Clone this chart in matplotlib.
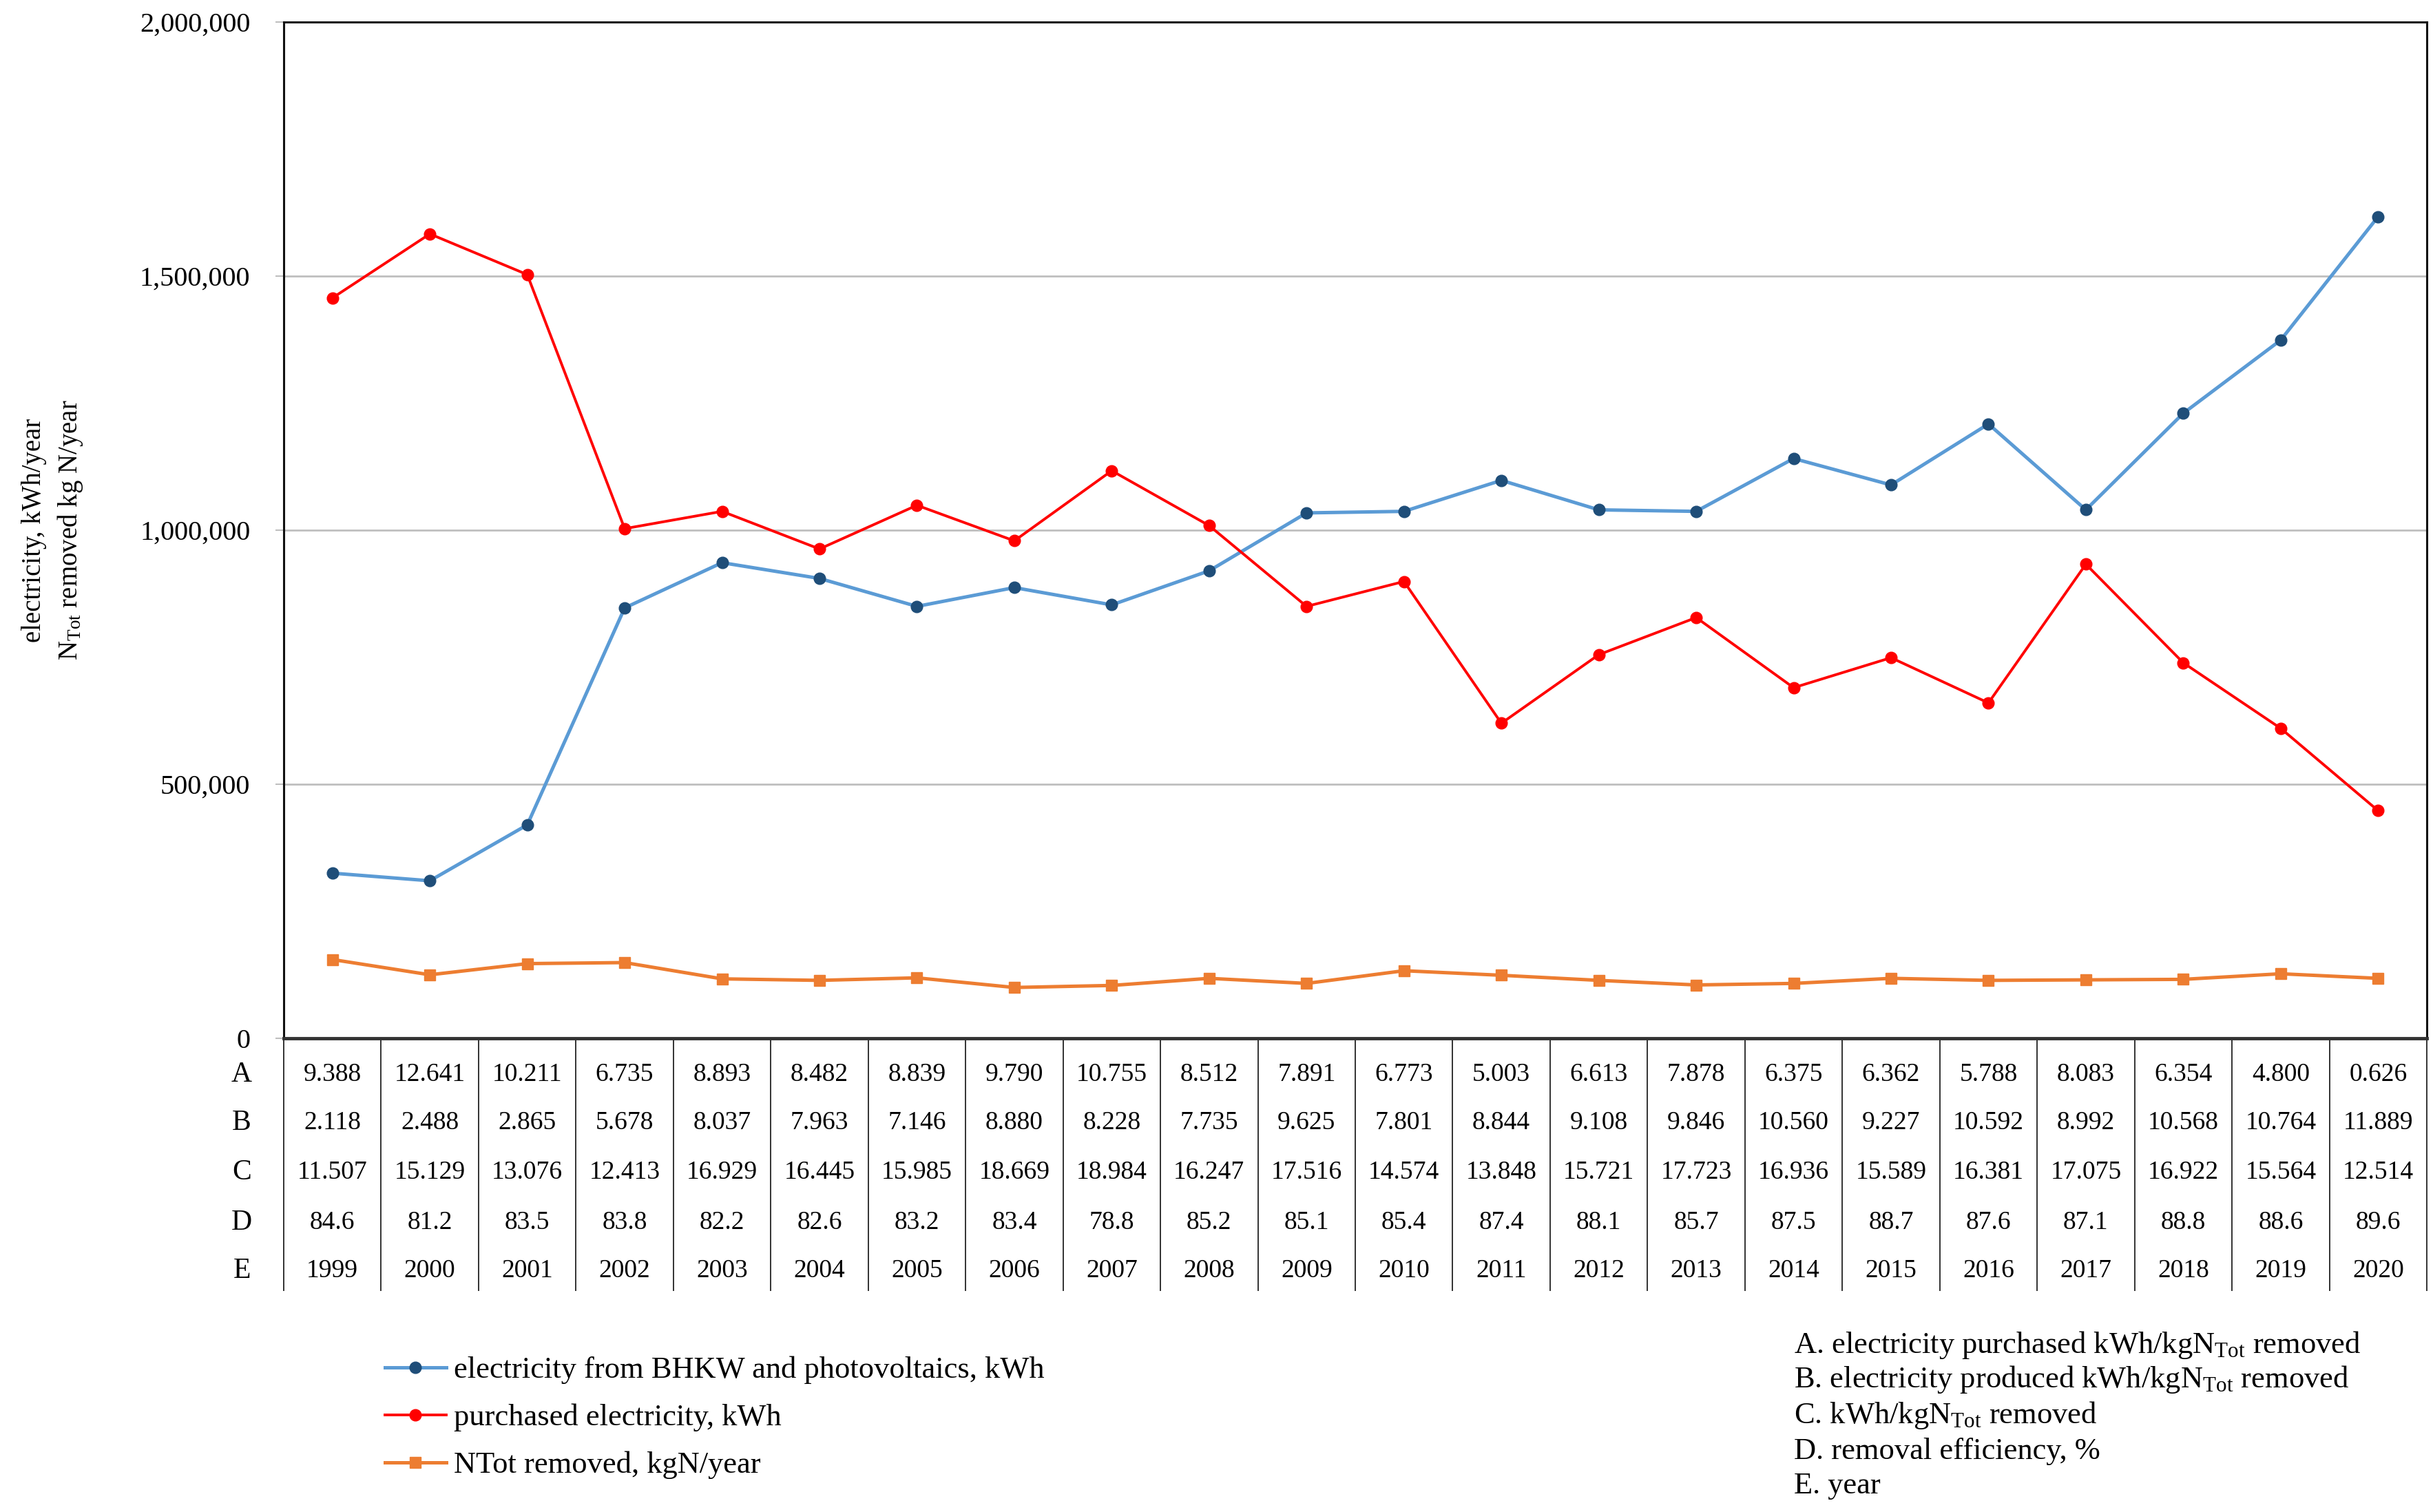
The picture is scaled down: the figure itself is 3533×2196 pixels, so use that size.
import matplotlib
matplotlib.use("Agg")
import matplotlib.pyplot as plt
import matplotlib.transforms as mtransforms
from matplotlib.ticker import FuncFormatter, MultipleLocator

plt.rcParams['font.family'] = ['Liberation Serif', 'DejaVu Serif']
plt.rcParams['mathtext.fontset'] = 'custom'
plt.rcParams['mathtext.rm'] = 'Liberation Serif'
plt.rcParams['mathtext.it'] = 'Liberation Serif:italic'

years = list(range(1999, 2021))

# electricity from BHKW and photovoltaics, kWh
produced = [325000, 310000, 420000, 847000, 936000, 905000, 850000, 887000, 853000, 920000, 1034000,
            1037000, 1098000, 1040000, 1037000, 1141000, 1089000, 1209000, 1040000, 1230000, 1374000, 1617000]
# purchased electricity, kWh
purchased = [1457000, 1583000, 1503000, 1003000, 1037000, 963000, 1049000, 979000, 1117000, 1009000, 850000,
             899000, 620000, 755000, 828000, 690000, 749000, 660000, 933000, 739000, 610000, 448000]
# NTot removed, kgN/year
ntot = [155000, 125000, 147000, 149000, 117000, 114000, 119000, 100000, 104000, 118000, 108000,
        133000, 124000, 114000, 105000, 108000, 118000, 114000, 115000, 116000, 127000, 118000]

row_a = ["9.388", "12.641", "10.211", "6.735", "8.893", "8.482", "8.839", "9.790", "10.755", "8.512", "7.891",
         "6.773", "5.003", "6.613", "7.878", "6.375", "6.362", "5.788", "8.083", "6.354", "4.800", "0.626"]
row_b = ["2.118", "2.488", "2.865", "5.678", "8.037", "7.963", "7.146", "8.880", "8.228", "7.735", "9.625",
         "7.801", "8.844", "9.108", "9.846", "10.560", "9.227", "10.592", "8.992", "10.568", "10.764", "11.889"]
row_c = ["11.507", "15.129", "13.076", "12.413", "16.929", "16.445", "15.985", "18.669", "18.984", "16.247", "17.516",
         "14.574", "13.848", "15.721", "17.723", "16.936", "15.589", "16.381", "17.075", "16.922", "15.564", "12.514"]
row_d = ["84.6", "81.2", "83.5", "83.8", "82.2", "82.6", "83.2", "83.4", "78.8", "85.2", "85.1",
         "85.4", "87.4", "88.1", "85.7", "87.5", "88.7", "87.6", "87.1", "88.8", "88.6", "89.6"]
row_e = [str(y) for y in years]
row_names = ["A", "B", "C", "D", "E"]

key_lines = [r"A. electricity purchased kWh/kgN$_{\mathrm{Tot}}$ removed",
             r"B. electricity produced kWh/kgN$_{\mathrm{Tot}}$ removed",
             r"C. kWh/kgN$_{\mathrm{Tot}}$ removed",
             "D. removal efficiency, %",
             "E. year"]

W, H = 3533, 2196
fig = plt.figure(figsize=(W / 100, H / 100), dpi=100)
ax = fig.add_axes([412 / W, 1 - 1508 / H, (3524 - 412) / W, (1508 - 32) / H])

x = list(range(len(years)))
l1, = ax.plot(x, produced, '-o', color='#5B9BD5', lw=3.6, marker='o', markersize=12,
              markerfacecolor='#1F4E79', markeredgecolor='#1F4E79',
              label='electricity from BHKW and photovoltaics, kWh', zorder=3)
l2, = ax.plot(x, purchased, '-o', color='#FF0000', lw=2.8, markersize=12,
              label='purchased electricity, kWh', zorder=3)
l3, = ax.plot(x, ntot, '-s', color='#ED7D31', lw=3.6, markersize=12,
              label='NTot removed, kgN/year', zorder=3)

ax.set_xlim(-0.5, len(years) - 0.5)
ax.set_ylim(0, 2000000)
ax.yaxis.set_major_locator(MultipleLocator(500000))
ax.yaxis.set_major_formatter(FuncFormatter(lambda v, p: "{:,.0f}".format(v)))
ax.set_xticks([])
ax.tick_params(axis='y', labelsize=29, length=9, width=1.5, color='#BFBFBF', pad=26)
ax.grid(axis='y', color='#BFBFBF', lw=2)
ax.set_axisbelow(True)
for side in ['top', 'left', 'right']:
    ax.spines[side].set_linewidth(2.2)
    ax.spines[side].set_color('#111111')
ax.spines['bottom'].set_linewidth(3.5)
ax.spines['bottom'].set_color('#333333')

# data table under the axis
trans = mtransforms.blended_transform_factory(ax.transData, fig.transFigure)
row_y = [1561, 1631, 1703, 1776, 1846]
rows = [row_a, row_b, row_c, row_d, row_e]
for name, vals, yp in zip(row_names, rows, row_y):
    fy = 1 - yp / H
    fig.text(351 / W, fy, name, fontsize=30, ha='center', va='center')
    for i, v in enumerate(vals):
        ax.text(i, fy, v, transform=trans, fontsize=27, ha='center', va='center', clip_on=False)
ax.vlines([i - 0.5 for i in range(len(years) + 1)], 1 - 1875 / H, 1 - 1508 / H,
          transform=trans, colors='#222222', lw=1.3, clip_on=False)

# y label
fig.text(50 / W, 1 - 770 / H, "electricity, kWh/year", rotation=90, fontsize=28, ha='center', va='center')
fig.text(102 / W, 1 - 770 / H, r"N$_{\mathrm{Tot}}$ removed kg N/year", rotation=90, fontsize=28,
         ha='center', va='center')

# series legend
fig.legend(handles=[l1, l2, l3], loc='upper left', bbox_to_anchor=(559 / W, 1 - 1970 / H),
           frameon=False, fontsize=32, handlelength=2.0, handletextpad=0.25, labelspacing=0.64,
           borderpad=0, borderaxespad=0)

# key for table rows
key_y = [1954, 2004, 2056, 2108, 2158]
for txt, yp in zip(key_lines, key_y):
    fig.text(2605 / W, 1 - yp / H, txt, fontsize=32, ha='left', va='center')

fig.savefig("out.png", dpi=100)
